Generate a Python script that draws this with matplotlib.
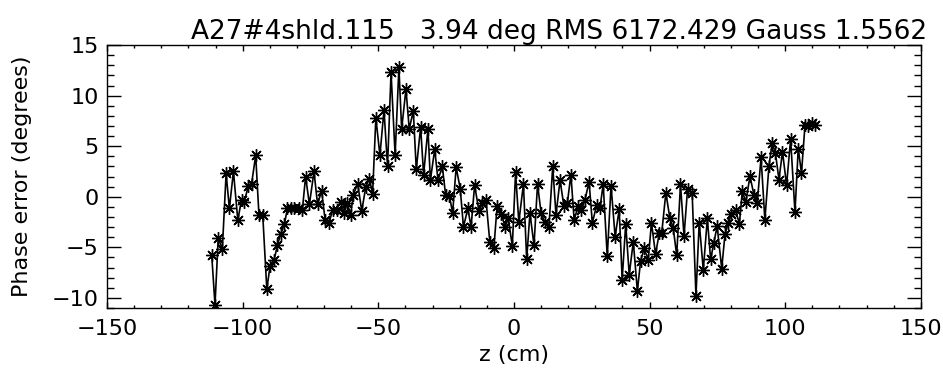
import numpy as np
import matplotlib.pyplot as plt
from matplotlib.ticker import MultipleLocator

# Posiciones a lo largo del eje (cm)
z = [-111.4, -110.2, -109.0, -107.5, -106.1, -104.9, -103.4, -101.8, -100.4, -99.4,
     -97.9, -96.7, -95.2, -94.0, -92.6, -91.1, -89.9, -88.4, -87.2, -86.0,
     -84.6, -83.5, -82.3, -80.9, -79.4, -78.0, -76.8, -75.4, -73.7, -72.4,
     -70.9, -69.6, -68.2, -66.8, -65.4, -63.9, -62.6, -61.4, -60.2, -59.2,
     -57.6, -56.1, -54.6, -53.3, -52.1, -50.9, -49.4, -47.9, -46.6, -45.3,
     -43.8, -42.4, -41.4, -39.8, -38.6, -37.1, -36.0, -34.4, -33.3, -31.7,
     -30.8, -29.2, -28.0, -26.4, -25.2, -23.8, -22.6, -21.3, -19.8, -18.6,
     -17.0, -15.8, -14.5, -12.9, -11.6, -10.3, -8.9, -7.4, -6.2, -4.6,
     -3.3, -2.1, -0.6, 0.6, 1.8, 3.5, 4.7, 5.9, 7.4, 8.7,
     10.0, 11.4, 12.9, 14.3, 15.5, 17.0, 18.4, 19.7, 21.0, 22.2,
     23.7, 24.9, 26.2, 27.7, 28.9, 30.5, 31.7, 32.9, 34.4, 35.8,
     37.3, 38.8, 39.9, 41.2, 42.5, 44.0, 45.5, 46.7, 48.0, 49.5,
     50.7, 52.2, 53.6, 54.5, 56.0, 57.5, 58.7, 60.0, 61.4, 62.7,
     64.0, 65.7, 67.1, 68.3, 69.8, 71.3, 72.5, 73.7, 74.9, 76.6,
     77.8, 79.0, 80.2, 81.7, 83.1, 84.2, 85.5, 87.0, 88.5, 89.7,
     91.1, 92.5, 94.0, 95.2, 96.4, 97.7, 99.0, 100.5, 102.0, 103.6,
     104.8, 106.0, 107.3, 108.5, 109.7, 111.0]

# Error de fase (grados)
fase = [-5.8, -10.7, -4.05, -5.2, 2.3, -1.15, 2.5, -2.3, -0.3, -0.5,
        1.1, 1.3, 4.1, -1.8, -1.8, -9.15, -6.85, -6.25, -4.8, -3.7,
        -2.7, -1.15, -1.15, -1.15, -1.15, -1.3, 2.0, -0.75, 2.5, -0.75,
        0.6, -2.3, -2.6, -1.3, -1.3, -0.5, -1.6, -0.6, -1.8, 0.2,
        1.3, -1.4, 1.0, 1.8, 0.3, 7.8, 4.1, 8.6, 3.0, 12.3,
        4.1, 12.8, 6.7, 10.65, 6.7, 8.5, 2.7, 6.9, 2.2, 6.7,
        1.65, 4.7, 1.65, 3.0, 0.2, 0.1, -1.6, 2.9, 0.8, -3.0,
        -1.15, -3.0, 1.15, -1.4, -0.65, -0.3, -4.45, -5.1, -0.9, -1.7,
        -3.0, -2.1, -4.9, 2.4, -2.5, 1.25, -6.2, -1.6, -4.8, 1.25,
        -1.6, -2.5, -3.0, 3.0, -1.8, 1.65, -0.9, -0.6, 2.2, -2.3,
        -0.9, -1.3, -0.3, 1.5, -2.6, -0.8, -1.15, 1.25, -5.9, 1.1,
        -3.95, -1.25, -8.2, -2.7, -7.7, -4.45, -9.3, -6.35, -5.1, -6.25,
        -2.55, -5.7, -3.55, -3.55, 0.4, -2.15, -3.05, -5.8, 1.25, -3.9,
        0.75, 0.35, -9.8, -2.55, -7.25, -2.15, -6.2, -4.55, -2.9, -7.1,
        -3.7, -2.6, -1.7, -1.3, -2.7, 0.55, -0.55, 2.05, 0.15, -0.6,
        3.9, -2.3, 3.0, 5.35, 4.3, 1.7, 4.45, 1.15, 5.7, -1.55,
        4.75, 2.35, 7.1, 7.0, 7.3, 7.1]

titulo = 'A27#4shld.115   3.94 deg RMS 6172.429 Gauss 1.5562'

plt.rcParams['font.family'] = 'DejaVu Sans'
fig = plt.figure(figsize=(9.43, 3.76), dpi=100)
ax = fig.add_axes([0.1135, 0.181, 0.863, 0.699])

# Curva con asteriscos (estilo IDL psym=-2)
ax.plot(z, fase, color='black', lw=1.2, marker=(8, 2, 0), ms=9, mew=1.0)

ax.set_xlim(-150, 150)
ax.set_ylim(-11, 15)
ax.xaxis.set_major_locator(MultipleLocator(50))
ax.xaxis.set_minor_locator(MultipleLocator(10))
ax.yaxis.set_major_locator(MultipleLocator(5))
ax.yaxis.set_minor_locator(MultipleLocator(1))

ax.tick_params(axis='x', which='major', direction='in', top=True, length=4.5, width=1, labelsize=16, pad=8)
ax.tick_params(axis='x', which='minor', direction='in', top=True, length=2.2, width=1)
ax.tick_params(axis='y', which='major', direction='in', right=True, length=10, width=1, labelsize=16, pad=6)
ax.tick_params(axis='y', which='minor', direction='in', right=True, length=5, width=1)
for s in ax.spines.values():
    s.set_linewidth(1)

ax.set_xlabel('z (cm)', fontsize=16, labelpad=4)
ax.set_ylabel('Phase error (degrees)', fontsize=16, labelpad=14)
ax.set_title(titulo, fontsize=19, pad=3, x=0.556)

fig.savefig('out.png', dpi=100)
